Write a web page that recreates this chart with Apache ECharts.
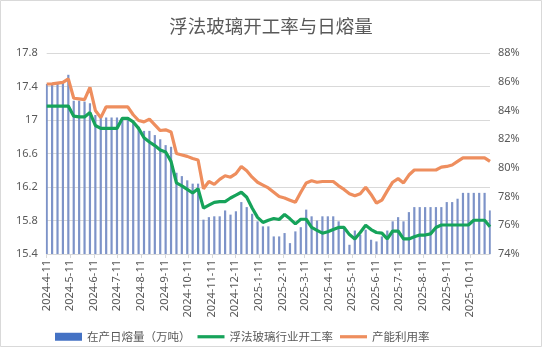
<!DOCTYPE html>
<html>
<head>
<meta charset="utf-8">
<script src="https://cdn.jsdelivr.net/npm/echarts@6/dist/echarts.min.js"></script>
<style>
html,body{margin:0;padding:0;background:#fff;}
#chart{width:542px;height:347px;}
</style>
</head>
<body>
<div id="chart"></div>
<script>
// Weekly data (Thursdays), starting 2024-4-11
const startDate = [2024, 4, 11];
const meltVolume = [17.43,17.43,17.44,17.45,17.54,17.23,17.23,17.22,17.2,17.06,
  17.03,17.03,17.03,17.03,17.03,17.03,16.98,16.92,16.87,16.87,
  16.82,16.77,16.7,16.68,16.37,16.33,16.28,16.24,16.24,15.81,
  15.84,15.85,15.85,15.92,15.87,15.91,16.02,15.96,15.88,15.79,
  15.73,15.73,15.61,15.61,15.65,15.53,15.67,15.72,15.93,15.85,
  15.8,15.85,15.85,15.85,15.79,15.72,15.51,15.68,15.63,15.69,
  15.57,15.55,15.61,15.68,15.79,15.84,15.79,15.9,15.96,15.96,
  15.96,15.96,15.96,15.96,16.02,16.02,16.06,16.13,16.13,16.13,
  16.13,16.13,15.92];
const operatingRate = [84.3,84.3,84.3,84.3,84.3,83.6,83.55,83.55,83.85,82.95,
  82.75,82.75,82.75,82.75,83.45,83.45,83.2,82.75,82.1,81.8,
  81.55,81.25,81.1,80.45,78.95,78.75,78.5,78.25,78.55,77.2,
  77.4,77.6,77.65,77.65,77.9,78.1,78.3,77.95,77.2,76.55,
  76.2,76.35,76.47,76.4,76.75,76.45,76.1,76.42,76.42,75.85,
  75.65,75.45,75.55,75.7,75.85,75.85,75.35,75.05,75.5,76.0,
  75.7,75.5,75.45,75.05,75.6,75.6,75.05,75.05,75.2,75.32,
  75.32,75.4,75.85,76.02,76.02,76.02,76.02,76.02,76.02,76.35,
  76.35,76.35,75.9];
const utilizationRate = [85.84,85.85,85.9,85.95,86.2,84.85,84.8,84.75,85.6,84.0,
  83.5,84.25,84.25,84.25,84.25,84.25,83.7,83.3,83.2,83.4,
  83.0,82.6,82.65,82.5,81.0,80.9,80.8,80.65,80.55,78.55,
  79.05,78.85,79.2,79.45,79.35,79.6,80.1,79.8,79.35,79.0,
  78.8,78.6,78.3,78.0,77.9,77.75,77.6,78.3,78.95,79.1,
  79.0,79.05,79.05,79.05,78.75,78.5,78.2,78.05,78.2,78.65,
  78.15,77.55,77.75,78.4,79.0,79.25,78.95,79.5,79.85,79.85,
  79.85,79.85,79.85,80.05,80.1,80.2,80.45,80.7,80.7,80.7,
  80.7,80.7,80.45];
const seriesNames = ['在产日熔量（万吨）', '浮法玻璃行业开工率', '产能利用率'];
const leftTicks = {min: 15.4, max: 17.8, interval: 0.4};
const rightTicks = {min: 74, max: 88, interval: 2};

// Build a daily category axis so monthly "-11" labels sit at their true dates
const days = [];
const barDaily = [], opDaily = [], utDaily = [];
const totalDays = (meltVolume.length - 1) * 7;
for (let d = 0; d <= totalDays; d++) {
  const dt = new Date(Date.UTC(startDate[0], startDate[1] - 1, startDate[2] + d));
  days.push(dt.getUTCFullYear() + '-' + (dt.getUTCMonth() + 1) + '-' + dt.getUTCDate());
  const w = d % 7 === 0 ? d / 7 : -1;
  barDaily.push(w >= 0 ? meltVolume[w] : null);
  opDaily.push(w >= 0 ? operatingRate[w] : null);
  utDaily.push(w >= 0 ? utilizationRate[w] : null);
}
const isLabelDay = (idx, val) => /-11$/.test(val);

const txt = '#595959';
const latin = '"Noto Sans", "Noto Sans CJK SC", sans-serif';
const cjk = '"Noto Sans CJK SC", sans-serif';
const green = '#16a35a', orange = '#ee8e5e';
const lineIcon = 'path://M0,0H27V3.2H0Z';

const chart = echarts.init(document.getElementById('chart'), null, {renderer: 'canvas'});
chart.setOption({
  backgroundColor: '#ffffff',
  animation: false,
  title: {
    text: '浮法玻璃开工率与日熔量',
    left: 'center',
    top: 12,
    textStyle: {fontSize: 18.5, fontWeight: 'normal', color: txt, fontFamily: cjk}
  },
  graphic: [{
    type: 'rect', silent: true, z: -1,
    shape: {x: 0.5, y: 0.5, width: 541, height: 346},
    style: {fill: 'none', stroke: '#d9d9d9', lineWidth: 1}
  }],
  legend: {
    left: 50,
    top: 326,
    itemGap: 7,
    itemWidth: 27,
    itemHeight: 8,
    symbolKeepAspect: true,
    textStyle: {fontSize: 11.5, color: txt, fontFamily: cjk},
    data: [
      {name: seriesNames[0], icon: 'rect', itemStyle: {color: '#4472c4'}},
      {name: seriesNames[1], icon: lineIcon, itemStyle: {color: green}},
      {name: seriesNames[2], icon: lineIcon, itemStyle: {color: orange}}
    ]
  },
  grid: {left: 46.7, right: 52, top: 53, bottom: 93},
  xAxis: {
    type: 'category',
    data: days,
    boundaryGap: false,
    axisLine: {show: true, lineStyle: {color: '#d9d9d9'}},
    axisTick: {show: true, interval: isLabelDay, length: 4, lineStyle: {color: '#d9d9d9'}},
    axisLabel: {interval: isLabelDay, rotate: 90, fontSize: 11, color: txt, fontFamily: latin, margin: 6},
    splitLine: {show: false}
  },
  yAxis: [{
    type: 'value',
    min: leftTicks.min, max: leftTicks.max, interval: leftTicks.interval,
    axisLine: {show: false}, axisTick: {show: false},
    axisLabel: {fontSize: 11, color: txt, fontFamily: latin, margin: 9},
    splitLine: {lineStyle: {color: '#d9d9d9'}}
  }, {
    type: 'value',
    min: rightTicks.min, max: rightTicks.max, interval: rightTicks.interval,
    axisLine: {show: false}, axisTick: {show: false},
    axisLabel: {fontSize: 11, color: txt, fontFamily: latin, margin: 8, formatter: '{value}%'},
    splitLine: {show: false}
  }],
  series: [{
    name: seriesNames[0],
    type: 'bar',
    yAxisIndex: 0,
    data: barDaily,
    barWidth: 2.2,
    itemStyle: {color: '#7d93c8'}
  }, {
    name: seriesNames[1],
    type: 'line',
    yAxisIndex: 1,
    data: opDaily,
    connectNulls: true,
    symbol: 'none',
    lineStyle: {color: green, width: 3.2},
    itemStyle: {color: green}
  }, {
    name: seriesNames[2],
    type: 'line',
    yAxisIndex: 1,
    data: utDaily,
    connectNulls: true,
    symbol: 'none',
    lineStyle: {color: orange, width: 3.2},
    itemStyle: {color: orange}
  }]
});
</script>
</body>
</html>
